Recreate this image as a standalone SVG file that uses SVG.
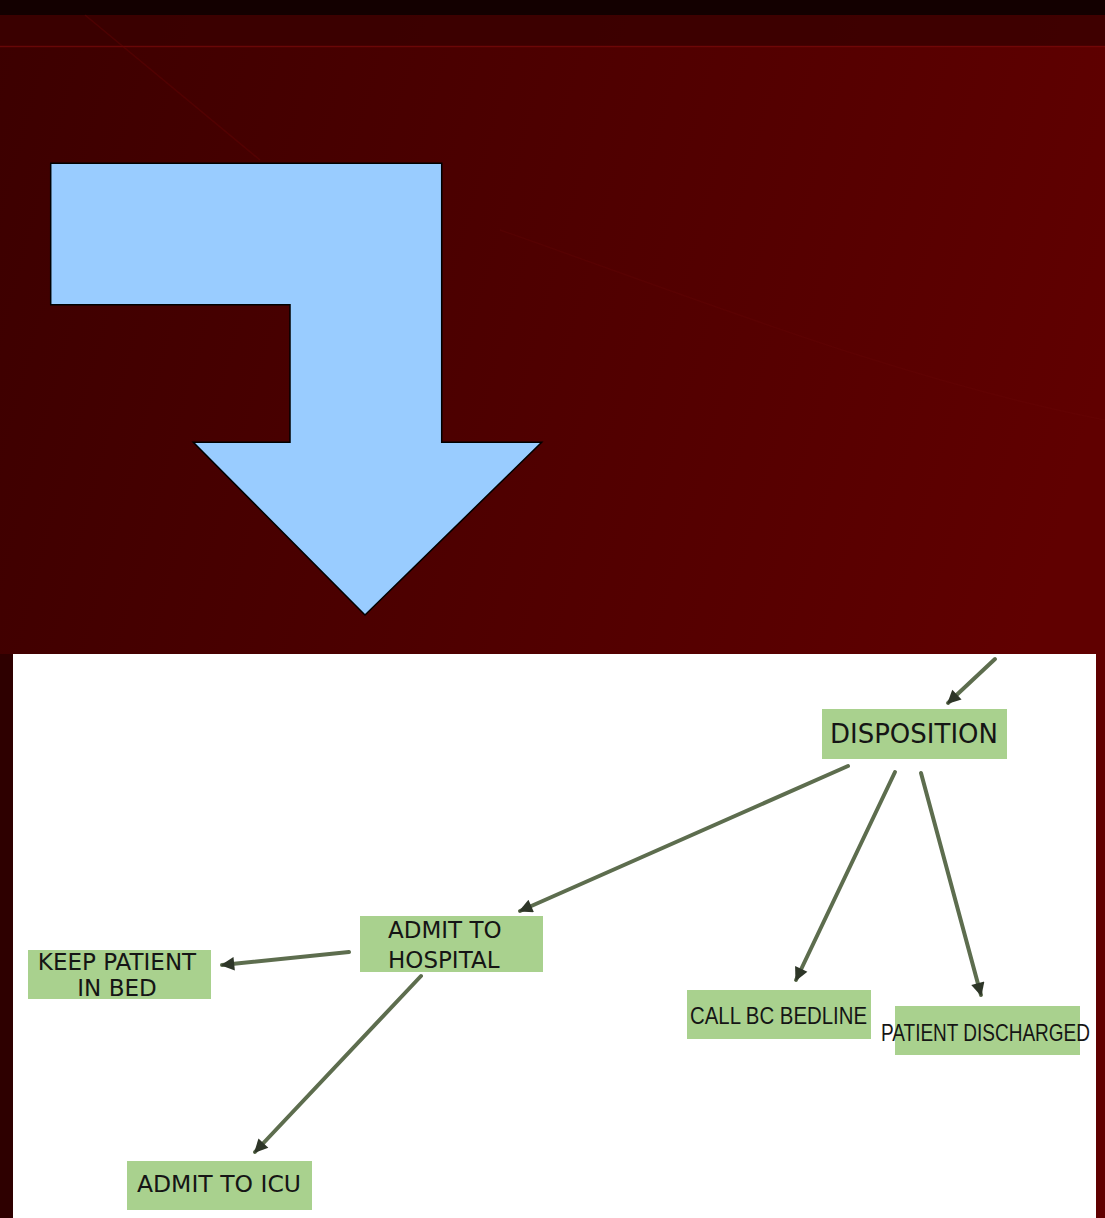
<svg xmlns="http://www.w3.org/2000/svg" width="1105" height="1218" viewBox="0 0 1105 1218">
  <defs>
    <linearGradient id="bg" x1="0" y1="0" x2="1" y2="0.3">
      <stop offset="0" stop-color="#3c0000"/>
      <stop offset="0.5" stop-color="#4e0000"/>
      <stop offset="1" stop-color="#600000"/>
    </linearGradient>
    <marker id="ah" viewBox="0 0 10 10" refX="9" refY="5" markerWidth="4" markerHeight="3.4" orient="auto" markerUnits="strokeWidth">
      <path d="M0,0 L10,5 L0,10 Z" fill="#2e3628"/>
    </marker>
  </defs>
  <style>
    .node rect { fill: #a9d18e; }
    .node text { font-family: "DejaVu Sans", sans-serif; fill: #151515; }
    .narrow { font-family: "Liberation Sans", sans-serif !important; }
    .conn line { stroke: #5d6d4e; stroke-width: 4; stroke-linecap: round; marker-end: url(#ah); }
  </style>

  <!-- background -->
  <rect x="0" y="0" width="1105" height="1218" fill="url(#bg)"/>
  <rect x="0" y="0" width="1105" height="15" fill="#130000"/>
  <rect x="0" y="15" width="1105" height="31" fill="#3a0000" opacity="0.85"/>
  <line x1="0" y1="46.5" x2="1105" y2="46.5" stroke="#7a0a0a" stroke-width="1.5" opacity="0.7"/>
  <path d="M85,15 L260,160" stroke="#6a0606" stroke-width="1.5" fill="none" opacity="0.4"/>
  <path d="M500,230 C700,300 900,380 1105,420" stroke="#6a0606" stroke-width="1.5" fill="none" opacity="0.25"/>
  <rect x="0" y="654" width="13" height="564" fill="#2e0000"/>

  <!-- bent arrow -->
  <g id="bent-arrow">
    <polygon points="50.7,163.3 441.7,163.3 441.7,442.3 541.7,442.3 365,615 193.3,442.3 290,442.3 290,304.7 50.7,304.7" fill="#99ccff" stroke="#000" stroke-width="1.5"/>
  </g>

  <!-- white panel -->
  <rect x="13" y="654" width="1083" height="564" fill="#ffffff"/>

  <!-- connectors -->
  <g id="connectors" class="conn">
    <line x1="995" y1="659" x2="948" y2="703"/>
    <line x1="848" y1="766" x2="520" y2="911"/>
    <line x1="895" y1="772" x2="796" y2="980"/>
    <line x1="921" y1="773" x2="981" y2="995"/>
    <line x1="349" y1="952" x2="222" y2="965"/>
    <line x1="421" y1="976" x2="255" y2="1152"/>
  </g>

  <!-- nodes -->
  <g id="disposition" class="node">
    <rect x="822" y="709" width="185" height="50"/>
    <text x="914" y="743" font-size="26" text-anchor="middle">DISPOSITION</text>
  </g>
  <g id="admit-hospital" class="node">
    <rect x="360" y="916" width="183" height="56"/>
    <text x="388" y="938" font-size="23">ADMIT TO</text>
    <text x="388" y="968" font-size="23">HOSPITAL</text>
  </g>
  <g id="keep-patient" class="node">
    <rect x="28" y="950" width="183" height="49"/>
    <text x="117" y="970" font-size="23" text-anchor="middle">KEEP PATIENT</text>
    <text x="117" y="996" font-size="23" text-anchor="middle">IN BED</text>
  </g>
  <g id="admit-icu" class="node">
    <rect x="127" y="1161" width="185" height="49"/>
    <text x="219" y="1192" font-size="23.5" text-anchor="middle">ADMIT TO ICU</text>
  </g>
  <g id="call-bc-bedline" class="node">
    <rect x="687" y="990" width="184" height="49"/>
    <text class="narrow" x="690" y="1024" font-size="24" textLength="177" lengthAdjust="spacingAndGlyphs">CALL BC BEDLINE</text>
  </g>
  <g id="patient-discharged" class="node">
    <rect x="895" y="1006" width="185" height="49"/>
    <text class="narrow" x="881" y="1041" font-size="24" textLength="209" lengthAdjust="spacingAndGlyphs">PATIENT DISCHARGED</text>
  </g>
</svg>
